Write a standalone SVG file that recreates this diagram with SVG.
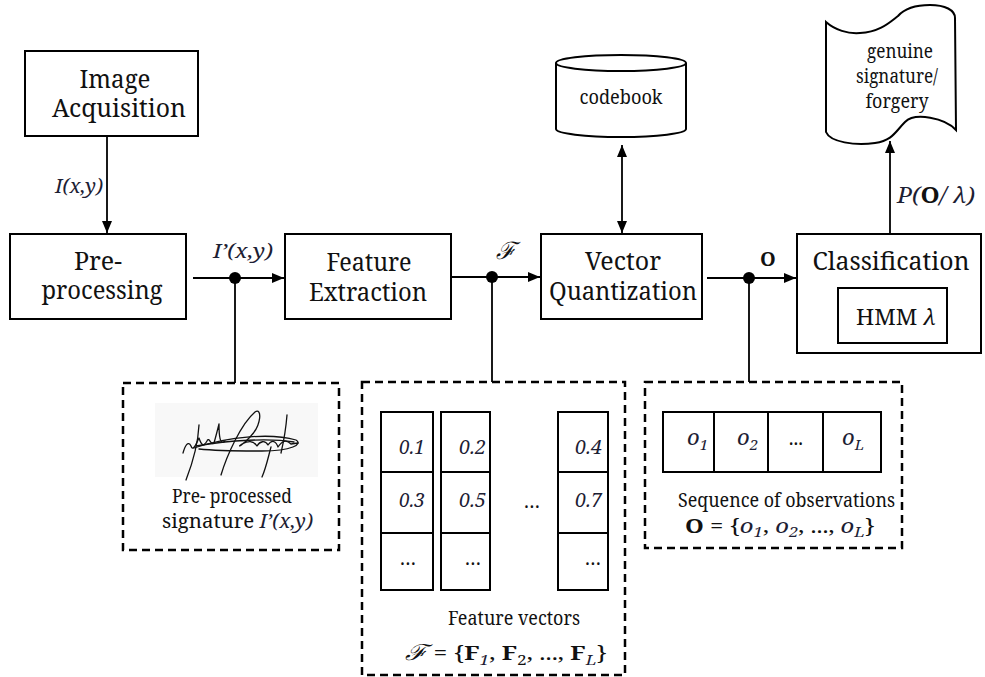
<svg xmlns="http://www.w3.org/2000/svg" width="985" height="677" viewBox="0 0 985 677">
<defs>
<marker id="ah" viewBox="0 0 12 10" refX="12" refY="5" markerWidth="12" markerHeight="10" markerUnits="userSpaceOnUse" orient="auto-start-reverse"><path d="M0,0 L12,5 L0,10 Z" fill="#000"/></marker>
</defs>
<style>
.box{fill:#fff;stroke:#000;stroke-width:2}
.dash{fill:none;stroke:#000;stroke-width:2.5;stroke-dasharray:8 5}
.cell{fill:#fff;stroke:#000;stroke-width:2}
.ln{fill:none;stroke:#000;stroke-width:1.8}
text{font-family:"Noto Serif","DejaVu Serif",serif;fill:#111}
.big{font-size:25px}
.mid{font-size:19px}
.it{font-style:italic;fill:#1c2033}
.b{font-weight:bold}
.scr{font-family:"DejaVu Serif",serif;font-style:italic}
.sig{fill:none;stroke:#111;stroke-width:1.3;stroke-linecap:round;stroke-linejoin:round}
</style>
<rect width="985" height="677" fill="#fff"/>

<g id="connectors">
<line class="ln" x1="107" y1="136" x2="107" y2="233" marker-end="url(#ah)"/>
<line class="ln" x1="193" y1="278" x2="284" y2="278" marker-end="url(#ah)"/>
<line class="ln" x1="451" y1="277" x2="540" y2="277" marker-end="url(#ah)"/>
<line class="ln" x1="707" y1="278" x2="796" y2="278" marker-end="url(#ah)"/>
<line class="ln" x1="622" y1="145" x2="622" y2="233" marker-start="url(#ah)" marker-end="url(#ah)"/>
<line class="ln" x1="890" y1="234" x2="890" y2="141" marker-end="url(#ah)"/>
<line class="ln" x1="235" y1="278" x2="235" y2="383"/>
<line class="ln" x1="492" y1="277" x2="492" y2="382"/>
<line class="ln" x1="749" y1="278" x2="749" y2="382"/>
<circle cx="235" cy="278" r="6" fill="#000"/>
<circle cx="492" cy="277" r="6" fill="#000"/>
<circle cx="749" cy="278" r="6" fill="#000"/>
<text class="it" x="55" y="193" font-size="20" textLength="48" lengthAdjust="spacingAndGlyphs">I(x,y)</text>
<text class="it" x="213" y="258" font-size="20" textLength="60" lengthAdjust="spacingAndGlyphs">I’(x,y)</text>
<text class="scr" x="496" y="259" font-size="24">ℱ</text>
<text class="b" x="760" y="266" font-size="20">O</text>
<text class="it" x="897" y="203" font-size="21" textLength="78" lengthAdjust="spacingAndGlyphs">P(<tspan class="b" font-style="normal" fill="#111">O</tspan>/ λ)</text>
</g>

<g id="image-acquisition">
<rect class="box" x="25" y="51" width="173" height="85"/>
<text class="big" x="115" y="88" text-anchor="middle" textLength="71" lengthAdjust="spacingAndGlyphs">Image</text>
<text class="big" x="119" y="117" text-anchor="middle" textLength="134" lengthAdjust="spacingAndGlyphs">Acquisition</text>
</g>

<g id="pre-processing">
<rect class="box" x="10" y="234" width="176" height="85"/>
<text class="big" x="98" y="270" text-anchor="middle" textLength="48" lengthAdjust="spacingAndGlyphs">Pre-</text>
<text class="big" x="102" y="299" text-anchor="middle" textLength="121" lengthAdjust="spacingAndGlyphs">processing</text>
</g>

<g id="feature-extraction">
<rect class="box" x="285" y="234" width="166" height="85"/>
<text class="big" x="369" y="271" text-anchor="middle" textLength="85" lengthAdjust="spacingAndGlyphs">Feature</text>
<text class="big" x="368" y="301" text-anchor="middle" textLength="118" lengthAdjust="spacingAndGlyphs">Extraction</text>
</g>

<g id="vector-quantization">
<rect class="box" x="541" y="234" width="161" height="85"/>
<text class="big" x="623" y="270" text-anchor="middle" textLength="76" lengthAdjust="spacingAndGlyphs">Vector</text>
<text class="big" x="623" y="300" text-anchor="middle" textLength="148" lengthAdjust="spacingAndGlyphs">Quantization</text>
</g>

<g id="codebook">
<path class="box" d="M556,63 L556,129 A65,8 0 0 0 686,129 L686,63"/>
<ellipse class="box" cx="621" cy="63" rx="65" ry="8"/>
<text class="mid" x="621" y="104" text-anchor="middle" textLength="83" lengthAdjust="spacingAndGlyphs">codebook</text>
</g>

<g id="classification">
<rect class="box" x="797" y="234" width="184" height="119"/>
<text class="big" x="891" y="270" text-anchor="middle" textLength="157" lengthAdjust="spacingAndGlyphs">Classification</text>
<rect class="box" x="838" y="288" width="109" height="55"/>
<text x="896" y="325" text-anchor="middle" font-size="22" textLength="80" lengthAdjust="spacingAndGlyphs">HMM <tspan font-style="italic">λ</tspan></text>
</g>

<g id="decision">
<path class="box" d="M826,22 C835,30 848,34 860,33 C880,32 890,22 898,16 C905,8 915,5 930,5 C945,5 955,10 955,18 L956,130 C945,118 915,112 905,122 C895,132 893,140 875,143 C855,146 830,142 826,132 Z"/>
<text class="mid" x="900" y="58" text-anchor="middle" textLength="66" lengthAdjust="spacingAndGlyphs">genuine</text>
<text class="mid" x="897" y="83" text-anchor="middle" textLength="82" lengthAdjust="spacingAndGlyphs">signature/</text>
<text class="mid" x="897" y="108" text-anchor="middle" textLength="63" lengthAdjust="spacingAndGlyphs">forgery</text>
</g>

<g id="preprocessed-signature">
<rect class="dash" x="123" y="383" width="216" height="167"/>
<rect x="155" y="403" width="163" height="74" fill="#f8f8f8"/>
<path class="sig" d="M199,425 C198,445 193,462 186,480"/>
<path class="sig" d="M183,453 C185,446 188,440 191,446 C193,452 196,444 199,438 C201,444 203,448 207,441 C209,436 211,446 214,443 C216,436 218,428 219,424 C219,436 220,446 225,441"/>
<path class="sig" d="M221,475 C227,455 241,424 255,412 C262,407 262,425 250,437 C242,446 236,448 242,444 C248,441 253,440 257,446 C260,441 265,440 268,445 C272,439 276,441 278,447 C282,441 286,439 291,444 L298,443"/>
<path class="sig" d="M194,448 C230,436 272,433 296,440 C303,444 292,451 262,451 C240,451 218,451 199,449"/>
<path class="sig" d="M196,446 C230,440 270,438 294,442"/>
<path class="sig" d="M271,447 C268,458 266,468 262,477"/>
<path class="sig" d="M287,415 C286,428 284,440 281,453"/>
<text class="mid" x="232" y="503" text-anchor="middle" textLength="120" lengthAdjust="spacingAndGlyphs">Pre- processed</text>
<text class="mid" x="162" y="528" textLength="151" lengthAdjust="spacingAndGlyphs">signature <tspan class="it">I’(x,y)</tspan></text>
</g>

<g id="feature-vectors">
<rect class="dash" x="362" y="382" width="263" height="293"/>
<rect class="cell" x="381" y="412" width="52" height="60"/>
<rect class="cell" x="381" y="472" width="52" height="61"/>
<rect class="cell" x="381" y="533" width="52" height="57"/>
<rect class="cell" x="441" y="412" width="49" height="60"/>
<rect class="cell" x="441" y="472" width="49" height="61"/>
<rect class="cell" x="441" y="533" width="49" height="57"/>
<rect class="cell" x="558" y="412" width="50" height="60"/>
<rect class="cell" x="558" y="472" width="50" height="61"/>
<rect class="cell" x="558" y="533" width="50" height="57"/>
<text class="it" x="425" y="454" text-anchor="end" font-size="20" textLength="26" lengthAdjust="spacingAndGlyphs">0.1</text>
<text class="it" x="486" y="454" text-anchor="end" font-size="20" textLength="27" lengthAdjust="spacingAndGlyphs">0.2</text>
<text class="it" x="602" y="454" text-anchor="end" font-size="20" textLength="27" lengthAdjust="spacingAndGlyphs">0.4</text>
<text class="it" x="425" y="507" text-anchor="end" font-size="20" textLength="26" lengthAdjust="spacingAndGlyphs">0.3</text>
<text class="it" x="486" y="507" text-anchor="end" font-size="20" textLength="27" lengthAdjust="spacingAndGlyphs">0.5</text>
<text class="it" x="602" y="507" text-anchor="end" font-size="20" textLength="27" lengthAdjust="spacingAndGlyphs">0.7</text>
<text class="mid" x="408" y="565" text-anchor="middle">…</text>
<text class="mid" x="473" y="565" text-anchor="middle">…</text>
<text class="mid" x="593" y="565" text-anchor="middle">…</text>
<text class="mid" x="532" y="508" text-anchor="middle">…</text>
<text class="mid" x="514" y="625" text-anchor="middle" textLength="132" lengthAdjust="spacingAndGlyphs">Feature vectors</text>
<text x="405" y="660" font-size="20" textLength="202" lengthAdjust="spacingAndGlyphs"><tspan class="scr" font-size="22">ℱ</tspan> = {<tspan class="b">F</tspan><tspan class="it" font-size="14" dy="5">1</tspan><tspan dy="-5">, </tspan><tspan class="b">F</tspan><tspan font-size="14" dy="5">2</tspan><tspan dy="-5">, ..., </tspan><tspan class="b">F</tspan><tspan class="it" font-size="14" dy="5">L</tspan><tspan dy="-5">}</tspan></text>
</g>

<g id="observations">
<rect class="dash" x="645" y="382" width="257" height="166"/>
<rect class="cell" x="663" y="412" width="51" height="60"/>
<rect class="cell" x="714" y="412" width="54" height="60"/>
<rect class="cell" x="768" y="412" width="55" height="60"/>
<rect class="cell" x="823" y="412" width="58" height="60"/>
<text class="it" x="687" y="445" font-size="22">o<tspan font-size="15" dy="5">1</tspan></text>
<text class="it" x="737" y="445" font-size="22">o<tspan font-size="15" dy="5">2</tspan></text>
<text class="mid" x="796" y="445" text-anchor="middle">...</text>
<text class="it" x="842" y="445" font-size="22">o<tspan font-size="15" dy="5">L</tspan></text>
<text class="mid" x="678" y="507" textLength="217" lengthAdjust="spacingAndGlyphs">Sequence of observations</text>
<text x="685" y="533" font-size="20" textLength="190" lengthAdjust="spacingAndGlyphs"><tspan class="b">O</tspan> = {<tspan class="it">o</tspan><tspan class="it" font-size="14" dy="4">1</tspan><tspan dy="-4">, </tspan><tspan class="it">o</tspan><tspan class="it" font-size="14" dy="4">2</tspan><tspan dy="-4">,  ..., </tspan><tspan class="it">o</tspan><tspan class="it" font-size="14" dy="4">L</tspan><tspan dy="-4">}</tspan></text>
</g>
</svg>
